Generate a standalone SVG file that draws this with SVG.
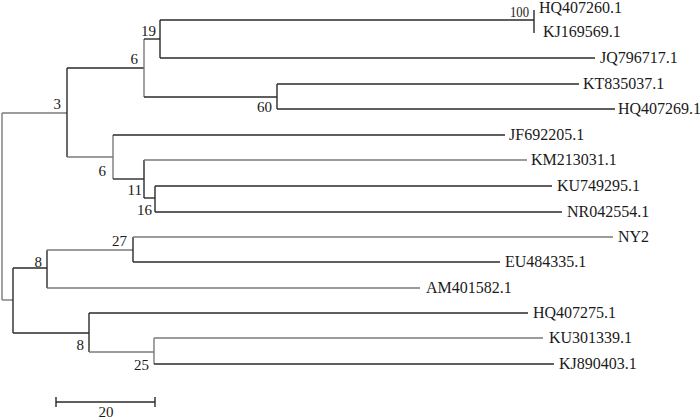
<svg xmlns="http://www.w3.org/2000/svg" width="700" height="420" viewBox="0 0 700 420">
<style>
.d{stroke:#2a2a2a;stroke-width:1.4;fill:none}
.g{stroke:#7a7a7a;stroke-width:1.4;fill:none}
text{font-family:"Liberation Serif","DejaVu Serif","Times New Roman",serif;fill:#1a1a1a}
.t{font-size:16px}
.b{font-size:15px;text-anchor:end}
</style>
<rect width="700" height="420" fill="#fff"/>
<g id="connectors">
<path class="g" d="M2,113 V300"/>
<path class="g" d="M2,113 H67"/>
<path class="d" d="M67,68 V157"/>
<path class="d" d="M67,68 H144"/>
<path class="g" d="M67,157 H113"/>
<path class="g" d="M144,39 V97"/>
<path class="d" d="M144,39 H160"/>
<path class="d" d="M144,97 H277"/>
<path class="d" d="M160,20 V58"/>
<path class="d" d="M160,20 H534"/>
<path class="d" d="M534,10 V33"/>
<path class="d" d="M160,58 H595"/>
<path class="d" d="M277,84 V109"/>
<path class="d" d="M277,84 H579"/>
<path class="d" d="M277,109 H615"/>
<path class="g" d="M113,135 V179"/>
<path class="d" d="M113,135 H505"/>
<path class="d" d="M113,179 H144"/>
<path class="d" d="M144,160 V198"/>
<path class="g" d="M144,160 H527"/>
<path class="d" d="M144,198 H155"/>
<path class="d" d="M155,186 V212"/>
<path class="d" d="M155,186 H552"/>
<path class="d" d="M155,212 H562"/>
<path class="g" d="M2,300 H13"/>
<path class="d" d="M13,268 V333"/>
<path class="d" d="M13,268 H47"/>
<path class="d" d="M13,333 H89"/>
<path class="d" d="M47,250 V288"/>
<path class="g" d="M47,250 H133"/>
<path class="g" d="M47,288 H420"/>
<path class="d" d="M133,237 V262"/>
<path class="g" d="M133,237 H613"/>
<path class="d" d="M133,262 H500"/>
<path class="d" d="M89,313 V352"/>
<path class="d" d="M89,313 H528"/>
<path class="g" d="M89,352 H154"/>
<path class="g" d="M154,338 V364"/>
<path class="g" d="M154,338 H543"/>
<path class="d" d="M154,364 H554"/>
</g>
<g id="leaves">
<text class="t" x="539" y="13">HQ407260.1</text>
<text class="t" x="543" y="37">KJ169569.1</text>
<text class="t" x="600" y="63">JQ796717.1</text>
<text class="t" x="583" y="89">KT835037.1</text>
<text class="t" x="618" y="114">HQ407269.1</text>
<text class="t" x="509" y="140">JF692205.1</text>
<text class="t" x="531" y="165">KM213031.1</text>
<text class="t" x="557" y="191">KU749295.1</text>
<text class="t" x="567" y="217">NR042554.1</text>
<text class="t" x="618" y="242">NY2</text>
<text class="t" x="505" y="267">EU484335.1</text>
<text class="t" x="426" y="293">AM401582.1</text>
<text class="t" x="533" y="318">HQ407275.1</text>
<text class="t" x="549" y="343">KU301339.1</text>
<text class="t" x="559" y="369">KJ890403.1</text>
</g>
<g id="bootstrap">
<text class="b" x="529" y="17" textLength="19" lengthAdjust="spacingAndGlyphs">100</text>
<text class="b" x="156" y="36">19</text>
<text class="b" x="138" y="64">6</text>
<text class="b" x="272" y="112">60</text>
<text class="b" x="61" y="109">3</text>
<text class="b" x="106" y="176">6</text>
<text class="b" x="142" y="195">11</text>
<text class="b" x="152" y="215">16</text>
<text class="b" x="127" y="246">27</text>
<text class="b" x="42" y="267">8</text>
<text class="b" x="84" y="350">8</text>
<text class="b" x="149" y="370">25</text>
</g>
<g id="scale">
<path class="d" d="M56,402 H155 M56,397 V407 M155,397 V407"/>
<text x="106" y="417" text-anchor="middle" font-size="15">20</text>
</g>
</svg>
